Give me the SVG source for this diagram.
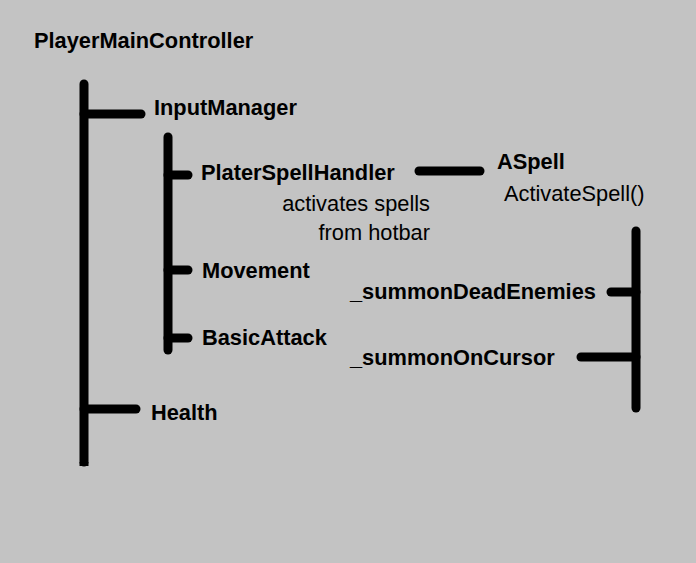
<svg xmlns="http://www.w3.org/2000/svg" width="696" height="563" viewBox="0 0 696 563">
<style>
.b{font-family:"Liberation Sans",Arial,sans-serif;font-weight:bold;font-size:21.8px;fill:#000}
.n{font-family:"Liberation Sans",Arial,sans-serif;font-size:21.8px;fill:#000}
.ln{stroke:#000;stroke-width:9;stroke-linecap:round;fill:none}
</style>
<rect width="696" height="563" fill="#c3c3c3"/>
<g id="connectors">
<path class="ln" d="M84 84V462"/>
<path d="M79.5 462h9v4h-9z" fill="#000"/>
<path class="ln" d="M84 114H141"/>
<path class="ln" d="M84 409H136"/>
<path class="ln" d="M168 137V350"/>
<path class="ln" d="M168 175H188"/>
<path class="ln" d="M168 270H188"/>
<path class="ln" d="M168 338H188"/>
<path class="ln" d="M419 171H480"/>
<path class="ln" d="M636 231V408"/>
<path class="ln" d="M611 292H636"/>
<path class="ln" d="M581 357H636"/>
</g>
<g id="PlayerMainController"><text class="b" x="34" y="48">PlayerMainController</text></g>
<g id="InputManager"><text class="b" x="154" y="115">InputManager</text></g>
<g id="PlaterSpellHandler"><text class="b" x="201" y="180">PlaterSpellHandler</text>
<text class="n" x="430" y="211" text-anchor="end">activates spells</text>
<text class="n" x="430" y="240" text-anchor="end">from hotbar</text></g>
<g id="ASpell"><text class="b" x="497" y="169">ASpell</text>
<text class="n" x="504" y="201">ActivateSpell()</text></g>
<g id="Movement"><text class="b" x="202" y="278">Movement</text></g>
<g id="BasicAttack"><text class="b" x="202" y="345">BasicAttack</text></g>
<g id="Health"><text class="b" x="151" y="420">Health</text></g>
<g id="summonDeadEnemies"><text class="b" x="350" y="299">_summonDeadEnemies</text></g>
<g id="summonOnCursor"><text class="b" x="350" y="365">_summonOnCursor</text></g>
</svg>
